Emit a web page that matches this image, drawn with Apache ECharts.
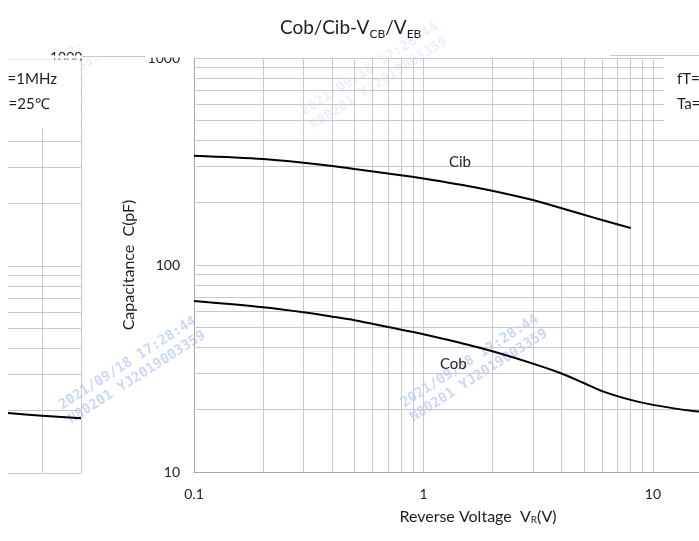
<!DOCTYPE html>
<html><head><meta charset="utf-8">
<script src="https://cdn.jsdelivr.net/npm/echarts@6/dist/echarts.min.js"></script>
<style>html,body{margin:0;padding:0;background:#fff;overflow:hidden;width:699px;height:541px}#c{width:760px;height:541px}</style>
</head><body><div id="c"></div>
<script>
// ---- data ----
const cibV = [0.1, 0.2, 0.3, 0.4, 0.5, 0.7, 1, 1.76, 3, 4, 5, 6, 8];
const cibC = [337, 325, 312, 301, 291, 277, 262, 235, 206, 188, 175, 165, 151];
const cobV = [0.1, 0.2, 0.3, 0.4, 0.5, 0.7, 1, 1.76, 3, 4, 5, 6, 8, 10, 15, 20];
const cobC = [67, 62.5, 59.1, 56.3, 54.1, 50.2, 46.3, 39.8, 33.4, 29.9, 26.9, 24.6, 22.3, 21.1, 19.7, 19.2];
// neighbouring (cropped) panel on the left
const sideV = [7, 10, 15];
const sideC = [19.5, 18.9, 18.4];
// grid line values
const mainXGrid = [0.2, 0.3, 0.4, 0.5, 0.6, 0.7, 0.8, 0.9, 1, 2, 3, 4, 5, 6, 7, 8, 9, 10];
const mainYGrid = [20, 30, 40, 50, 60, 70, 80, 90, 100, 200, 300, 400, 500, 600, 700, 800, 900, 1000];
const sideXGrid = [10, 15];
const sideYGrid = [10, 20, 30, 40, 50, 60, 70, 80, 90, 100, 200, 300, 400, 500, 600, 700, 800, 900, 1000];

const font = 'Lato, "Open Sans", sans-serif';
const gridColor = '#c8c8c8';
const axisColor = '#a6a6a6';
const textColor = '#1e1e1e';

const pairs = (xs, ys) => xs.map((x, i) => [x, ys[i]]);
const gridLines = (xs, ys) => xs.map(v => ({xAxis: v})).concat(ys.map(v => ({yAxis: v})));

function watermark(cx, cy, op) {
  return {
    type: 'group', x: cx, y: cy, rotation: 0.57, z: 200, silent: true,
    children: [
      {type: 'text', x: 0, y: -8, style: {text: '2021/09/18 17:28:44', font: 'bold 14px "DejaVu Sans Mono", monospace', fill: 'rgba(90,130,230,' + op + ')', align: 'center', verticalAlign: 'middle'}},
      {type: 'text', x: 0, y: 9, style: {text: 'N80201 YJ2019003359', font: 'bold 14px "DejaVu Sans Mono", monospace', fill: 'rgba(90,130,230,' + op + ')', align: 'center', verticalAlign: 'middle'}}
    ]
  };
}

const chart = echarts.init(document.getElementById('c'), null, {renderer: 'canvas'});
chart.setOption({
  backgroundColor: '#ffffff',
  animation: false,
  title: {
    text: '{a|Cob/Cib-V}{b|CB}{a|/V}{b|EB}',
    left: 275, top: 11,
    textStyle: {fontWeight: 'normal', rich: {
      a: {fontSize: 19, fontFamily: font, fontWeight: 'normal', color: textColor, lineHeight: 24},
      b: {fontSize: 12, fontFamily: font, fontWeight: 'normal', color: textColor, lineHeight: 12, verticalAlign: 'bottom'}
    }}
  },
  grid: [
    {left: 194, top: 58, right: 38, bottom: 69},
    {left: 8, top: 59, width: 73, bottom: 68}
  ],
  xAxis: [
    {type: 'log', logBase: 10, min: 0.1, max: 20, gridIndex: 0,
     axisLine: {show: true, lineStyle: {color: axisColor, width: 1}},
     axisTick: {show: false}, splitLine: {show: false},
     axisLabel: {fontSize: 14, fontFamily: font, color: textColor, margin: 15, formatter: v => String(v)},
     name: 'Reverse Voltage  V{s|R}(V)', nameLocation: 'middle', nameGap: 37,
     nameTextStyle: {fontSize: 16, fontFamily: font, color: textColor, padding: [0, 0, 0, 40],
       rich: {s: {fontSize: 10, fontFamily: font, color: textColor, lineHeight: 10, verticalAlign: 'bottom'}}}
    },
    {type: 'log', logBase: 10, min: 7, max: 15, gridIndex: 1,
     axisLine: {show: false}, axisTick: {show: false}, splitLine: {show: false}, axisLabel: {show: false}}
  ],
  yAxis: [
    {type: 'log', logBase: 10, min: 10, max: 1000, gridIndex: 0,
     axisLine: {show: true, lineStyle: {color: axisColor, width: 1}},
     axisTick: {show: false}, splitLine: {show: false},
     axisLabel: {fontSize: 14, fontFamily: font, color: textColor, margin: 14, formatter: v => String(v)},
     name: 'Capacitance  C(pF)', nameLocation: 'middle', nameGap: 49,
     nameTextStyle: {fontSize: 16, fontFamily: font, color: textColor}
    },
    {type: 'log', logBase: 10, min: 10, max: 1000, gridIndex: 1,
     axisLine: {show: false}, axisTick: {show: false}, splitLine: {show: false}, axisLabel: {show: false}}
  ],
  series: [
    {type: 'line', xAxisIndex: 0, yAxisIndex: 0, data: [], z: 1, silent: true,
     markLine: {silent: true, symbol: ['none', 'none'], label: {show: false}, animation: false,
       lineStyle: {color: gridColor, width: 1, type: 'solid'}, emphasis: {disabled: true},
       data: gridLines(mainXGrid, mainYGrid)}},
    {type: 'line', xAxisIndex: 1, yAxisIndex: 1, data: [], z: 1, silent: true,
     markLine: {silent: true, symbol: ['none', 'none'], label: {show: false}, animation: false,
       lineStyle: {color: gridColor, width: 1, type: 'solid'}, emphasis: {disabled: true},
       data: gridLines(sideXGrid, sideYGrid)}},
    {name: 'Cib', type: 'line', xAxisIndex: 0, yAxisIndex: 0, data: pairs(cibV, cibC), smooth: 0.3,
     showSymbol: false, z: 5, lineStyle: {color: '#000', width: 2}},
    {name: 'Cob', type: 'line', xAxisIndex: 0, yAxisIndex: 0, data: pairs(cobV, cobC), smooth: 0.3,
     showSymbol: false, z: 5, lineStyle: {color: '#000', width: 2}},
    {name: 'side', type: 'line', xAxisIndex: 1, yAxisIndex: 1, data: pairs(sideV, sideC), smooth: true,
     showSymbol: false, z: 5, lineStyle: {color: '#000', width: 2}}
  ],
  graphic: [
    // left panel legend box and fragments
    {type: 'text', x: 50, y: 50, z: 90, style: {text: '1000', font: '14px ' + font, fill: textColor}},
    {type: 'rect', shape: {x: 40, y: 55.5, width: 42, height: 3.1}, style: {fill: '#fff'}, z: 95},
    {type: 'rect', shape: {x: 0, y: 59.6, width: 80.5, height: 68.4}, style: {fill: '#fff'}, z: 100},
    {type: 'text', x: -6.5, y: 79, z: 101, style: {text: 'fT=1MHz', font: '15px ' + font, fill: textColor, verticalAlign: 'middle'}},
    {type: 'text', x: -6, y: 104, z: 101, style: {text: 'Ta=25℃', font: '15px ' + font, fill: textColor, verticalAlign: 'middle'}},
    {type: 'rect', shape: {x: 0, y: 0, width: 8, height: 541}, style: {fill: '#fff'}, z: 102},
    // cover above main plot top-left (hides most of the "1000" tick label)
    {type: 'rect', shape: {x: 82, y: 0, width: 110, height: 57.5}, style: {fill: '#fff'}, z: 100},
    {type: 'line', shape: {x1: 82, y1: 56.5, x2: 145, y2: 56.5}, style: {stroke: gridColor, lineWidth: 1}, z: 101},
    // main legend box (right)
    {type: 'rect', shape: {x: 664, y: 57, width: 40, height: 76}, style: {fill: '#fff'}, z: 100},
    {type: 'line', shape: {x1: 610, y1: 55.5, x2: 699, y2: 55.5}, style: {stroke: gridColor, lineWidth: 1}, z: 101},
    {type: 'text', x: 677, y: 79, z: 101, style: {text: 'fT=1MHz', font: '15px ' + font, fill: textColor, verticalAlign: 'middle'}},
    {type: 'text', x: 677, y: 104, z: 101, style: {text: 'Ta=25℃', font: '15px ' + font, fill: textColor, verticalAlign: 'middle'}},
    // curve labels
    {type: 'text', x: 449, y: 162, z: 101, style: {text: 'Cib', font: '15px ' + font, fill: textColor, verticalAlign: 'middle'}},
    {type: 'text', x: 440, y: 364, z: 101, style: {text: 'Cob', font: '15px ' + font, fill: textColor, verticalAlign: 'middle'}},
    // watermarks
    watermark(132, 370, 0.32),
    watermark(474, 368, 0.32),
    watermark(34, 86, 0.13),
    watermark(374, 76, 0.13)
  ]
});
</script>
</body></html>
